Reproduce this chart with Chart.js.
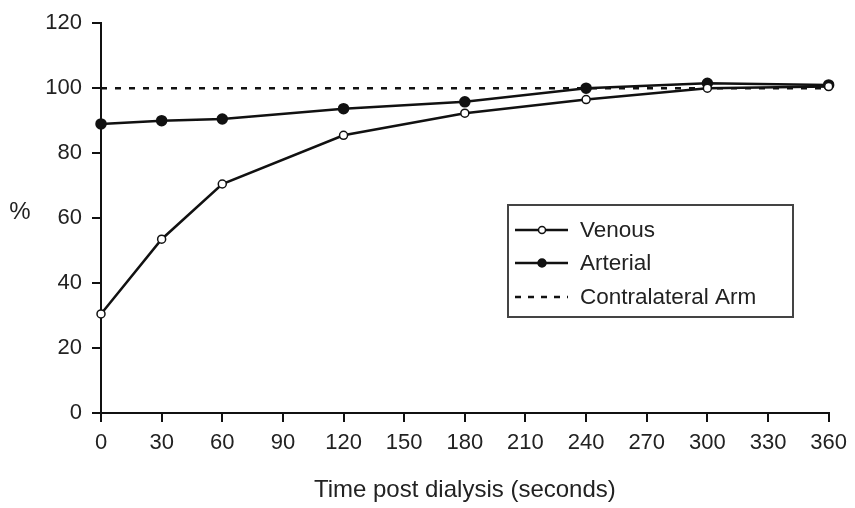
<!DOCTYPE html>
<html>
<head>
<meta charset="utf-8">
<script src="https://cdn.jsdelivr.net/npm/chart.js@4.4.1/dist/chart.umd.min.js"></script>
<style>
  html, body { margin: 0; padding: 0; background: #fff; }
</style>
</head>
<body>
<canvas id="recoveryChart" width="855" height="508"></canvas>
<script>
const times = [0, 30, 60, 120, 180, 240, 300, 360];
const venous = [30.5, 53.5, 70.5, 85.5, 92.3, 96.5, 100, 100.5];
const arterial = [89, 90, 90.5, 93.7, 95.8, 100, 101.5, 101];
const contralateral = [100, 100, 100, 100, 100, 100, 100, 100];
const seriesNames = ['Venous', 'Arterial', 'Contralateral Arm'];

const FONT = 'Liberation Sans, Arial, sans-serif';
const ink = '#111';

const pts = (ys) => times.map((t, i) => ({ x: t, y: ys[i] }));

// draws the "%" label and the boxed legend inside the plot
const extras = {
  id: 'extras',
  afterDraw(chart) {
    const c = chart.ctx;
    c.save();
    c.fillStyle = '#222';
    c.font = '24px ' + FONT;
    c.textBaseline = 'middle';
    c.textAlign = 'center';
    c.fillText('%', 20, 212);

    // legend box
    c.strokeStyle = '#444';
    c.lineWidth = 2;
    c.strokeRect(508, 205, 285, 112);

    const rows = [230, 263, 297];
    const x1 = 515, x2 = 568, xm = 542;
    c.font = '22.5px ' + FONT;
    c.textAlign = 'left';
    rows.forEach((y, i) => {
      c.strokeStyle = ink;
      c.lineWidth = 2.5;
      c.setLineDash(i === 2 ? [6, 7] : []);
      c.beginPath();
      c.moveTo(x1, y);
      c.lineTo(x2, y);
      c.stroke();
      c.setLineDash([]);
      if (i < 2) {
        c.beginPath();
        c.arc(xm, y, i === 0 ? 3.5 : 4, 0, Math.PI * 2);
        c.fillStyle = i === 0 ? '#fff' : ink;
        c.fill();
        c.lineWidth = 1.5;
        c.stroke();
      }
      c.fillStyle = '#222';
      c.fillText(seriesNames[i], 580, y + 1);
    });
    c.restore();
  }
};

new Chart(document.getElementById('recoveryChart'), {
  type: 'line',
  data: {
    datasets: [
      {
        label: seriesNames[0],
        data: pts(venous),
        borderColor: ink,
        borderWidth: 2.5,
        pointRadius: 4,
        pointBorderWidth: 1.5,
        pointBackgroundColor: '#fff',
        pointBorderColor: ink,
        tension: 0,
        clip: false
      },
      {
        label: seriesNames[1],
        data: pts(arterial),
        borderColor: ink,
        borderWidth: 2.5,
        pointRadius: 4.5,
        pointBackgroundColor: ink,
        pointBorderColor: ink,
        tension: 0,
        clip: false
      },
      {
        label: seriesNames[2],
        data: pts(contralateral),
        borderColor: ink,
        borderWidth: 2.5,
        borderDash: [6, 8],
        pointRadius: 0,
        tension: 0,
        clip: false
      }
    ]
  },
  options: {
    responsive: false,
    animation: false,
    layout: { padding: { top: 23, right: 26, bottom: 0, left: 0 } },
    plugins: { legend: { display: false }, tooltip: { enabled: false } },
    scales: {
      x: {
        type: 'linear',
        min: 0,
        max: 360,
        afterFit: (s) => { s.height = 95; },
        ticks: { stepSize: 30, padding: 8, color: '#222', font: { family: FONT, size: 22 }, maxRotation: 0 },
        grid: { drawOnChartArea: false, tickLength: 9, color: ink, lineWidth: 2 },
        border: { color: ink, width: 2 },
        title: {
          display: true,
          text: 'Time post dialysis (seconds)',
          color: '#222',
          font: { family: FONT, size: 24 },
          padding: { top: 0, bottom: 3 }
        }
      },
      y: {
        min: 0,
        max: 120,
        afterFit: (s) => { s.width = 101; },
        ticks: { stepSize: 20, padding: 10, color: '#222', font: { family: FONT, size: 22 } },
        grid: { drawOnChartArea: false, tickLength: 9, color: ink, lineWidth: 2 },
        border: { color: ink, width: 2 }
      }
    }
  },
  plugins: [extras]
});
</script>
</body>
</html>
